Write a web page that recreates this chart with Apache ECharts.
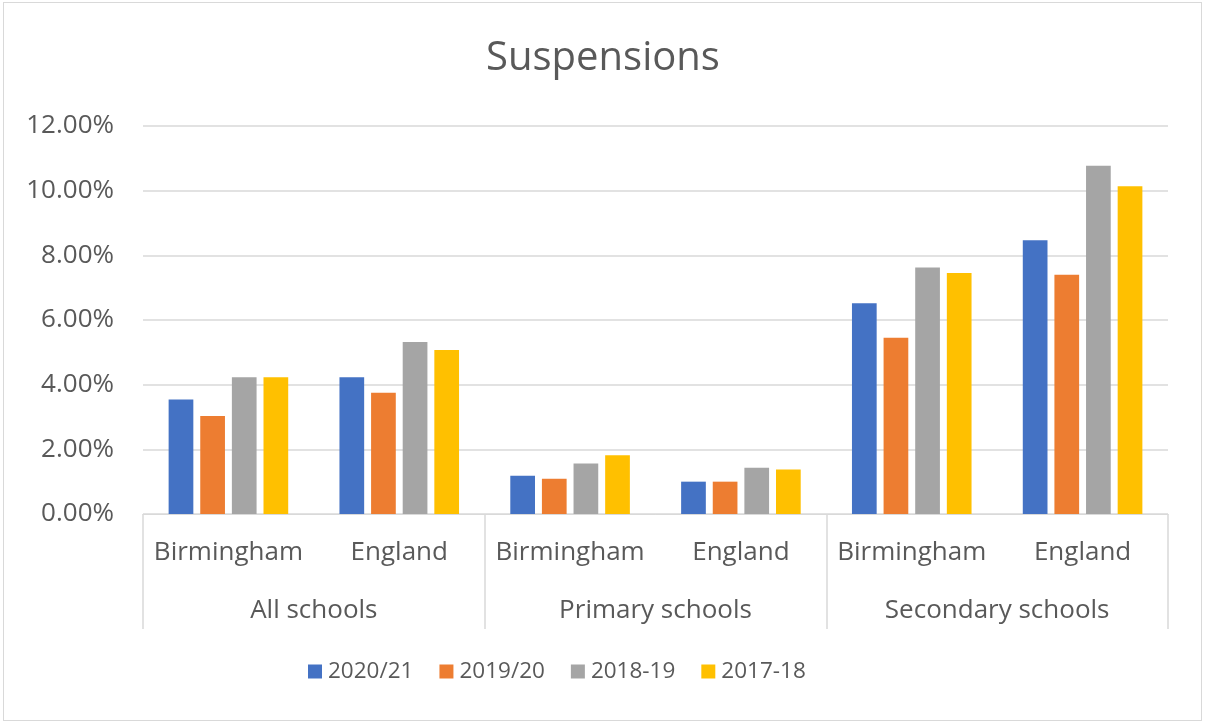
<!DOCTYPE html>
<html>
<head>
<meta charset="utf-8">
<script src="https://cdn.jsdelivr.net/npm/echarts@6/dist/echarts.min.js"></script>
<style>
html,body{margin:0;padding:0;background:#fff;}
#chart{width:1206px;height:725px;}
#frame{position:absolute;left:3px;top:2px;width:1199px;height:719px;border:1px solid #d9d9d9;pointer-events:none;box-sizing:border-box;}
</style>
</head>
<body>
<div id="chart"></div>
<div id="frame"></div>
<script>
const places = ['Birmingham', 'England', 'Birmingham', 'England', 'Birmingham', 'England'];
const groups = ['All schools', 'Primary schools', 'Secondary schools'];
const seriesNames = ['2020/21', '2019/20', '2018-19', '2017-18'];
const s2020_21 = [3.54, 4.23, 1.18, 1.00, 6.52, 8.47];
const s2019_20 = [3.03, 3.75, 1.09, 1.00, 5.45, 7.40];
const s2018_19 = [4.23, 5.32, 1.56, 1.43, 7.62, 10.77];
const s2017_18 = [4.23, 5.07, 1.82, 1.38, 7.45, 10.14];
const colors = ['#4472C4', '#ED7D31', '#A5A5A5', '#FFC000'];

const font = '"Open Sans", "Noto Sans", sans-serif';
const txt = '#595959';
const chart = echarts.init(document.getElementById('chart'));
const values = [s2020_21, s2019_20, s2018_19, s2017_18];
chart.setOption({
  animation: false,
  color: colors,
  title: {
    text: 'Suspensions', left: 'center', top: 34,
    textStyle: {fontFamily: font, fontSize: 40, fontWeight: 'normal', color: txt}
  },
  legend: {
    data: seriesNames, top: 660, left: 308, padding: 0,
    itemWidth: 14, itemHeight: 14, itemGap: 26,
    icon: 'rect',
    textStyle: {fontFamily: font, fontSize: 22.5, color: txt, padding: [0, 0, 0, 1]}
  },
  grid: {left: 143, right: 38, top: 126, bottom: 211},
  xAxis: [
    {
      type: 'category', data: places, position: 'bottom',
      axisLine: {lineStyle: {color: '#d9d9d9', width: 1}},
      axisTick: {show: false},
      axisLabel: {fontFamily: font, fontSize: 26, color: txt, margin: 26, interval: 0}
    },
    {
      type: 'category', data: groups, position: 'bottom',
      axisLine: {show: false},
      axisTick: {show: true, length: 115, interval: 0, lineStyle: {color: '#d9d9d9', width: 1.5}},
      axisLabel: {fontFamily: font, fontSize: 26, color: txt, margin: 84, interval: 0},
      splitLine: {show: false}
    }
  ],
  yAxis: {
    type: 'value', min: 0, max: 12, interval: 2,
    axisLine: {show: false}, axisTick: {show: false},
    axisLabel: {fontFamily: font, fontSize: 26, color: txt, margin: 29,
      formatter: v => v.toFixed(2) + '%'},
    splitLine: {lineStyle: {color: '#d9d9d9', width: 1.5}}
  },
  series: seriesNames.map((n, i) => ({
    name: n, type: 'bar', data: values[i], xAxisIndex: 0,
    barGap: '28%', barCategoryGap: '30%'
  }))
});
</script>
</body>
</html>
